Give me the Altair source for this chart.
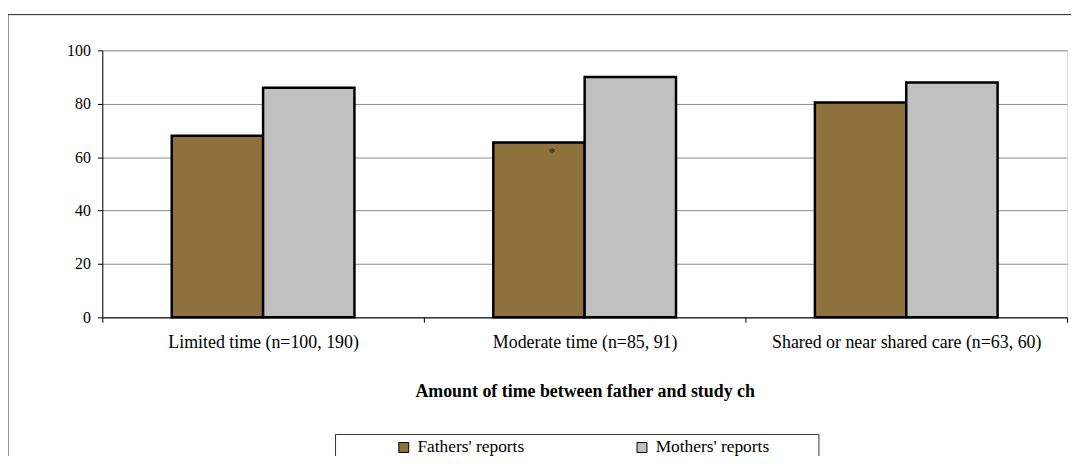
import altair as alt
import pandas as pd

categories = ["Limited time (n=100, 190)", "Moderate time (n=85, 91)", "Shared or near shared care (n=63, 60)"]
series = ["Fathers' reports", "Mothers' reports"]
fathers = [68, 65.5, 80.5]
mothers = [86, 90, 88]
colors = ["#8E713C", "#C0C0C0"]
y_ticks = [0, 20, 40, 60, 80, 100]
x_title = "Amount of time between father and study ch"
note_category = ["Moderate time (n=85, 91)"]
note_series = ["Fathers' reports"]
note_value = [61]
note_text = ["*"]

FONT = "'Liberation Serif', 'Times New Roman', 'DejaVu Serif', serif"

rows = []
for c, f, m in zip(categories, fathers, mothers):
    rows.append({"category": c, "series": series[0], "value": f})
    rows.append({"category": c, "series": series[1], "value": m})
df = pd.DataFrame(rows)

notes = pd.DataFrame({"category": note_category, "series": note_series,
                      "value": note_value, "text": note_text})

x_enc = alt.X("category:N", sort=categories,
              scale=alt.Scale(domain=categories, paddingInner=0, paddingOuter=0),
              axis=alt.Axis(title=x_title, labelAngle=0, tickBand="extent",
                            domainColor="black", tickColor="black", tickSize=5,
                            labelPadding=11, labelFont=FONT, labelFontSize=18,
                            labelColor="black", labelLimit=400,
                            titleFont=FONT, titleFontSize=18, titleFontWeight="bold",
                            titleColor="black", titleY=75, titleBaseline="middle",
                            grid=False))
xoff_enc = alt.XOffset("series:N", sort=series,
                       scale=alt.Scale(domain=series, paddingOuter=0.76, paddingInner=0))
y_enc = alt.Y("value:Q", scale=alt.Scale(domain=[0, 100]),
              axis=alt.Axis(values=y_ticks, title=None, domainColor="black",
                            tickColor="black", tickSize=5, labelPadding=7,
                            labelFont=FONT, labelFontSize=16, labelColor="black",
                            gridColor="#8c8c8c", gridWidth=1))

bars = alt.Chart(df).mark_bar(stroke="black", strokeWidth=2.5).encode(
    x=x_enc,
    xOffset=xoff_enc,
    y=y_enc,
    color=alt.Color("series:N", sort=series,
                    scale=alt.Scale(domain=series, range=colors),
                    legend=alt.Legend(title=None, orient="none", direction="horizontal",
                                      legendX=295, legendY=391, padding=0,
                                      symbolType="square", symbolSize=100,
                                      symbolStrokeColor="black", symbolStrokeWidth=1,
                                      labelFont=FONT, labelFontSize=17.5, labelColor="black",
                                      labelOffset=5, columnPadding=109, labelLimit=300)),
)

asterisk = alt.Chart(notes).mark_text(font=FONT, fontSize=14, color="#222", dx=13,
                                      baseline="middle").encode(
    x=alt.X("category:N", sort=categories),
    xOffset=alt.XOffset("series:N", sort=series),
    y=alt.Y("value:Q"),
    text="text:N",
)

one = pd.DataFrame({"a": [0]})
frame_left = alt.Chart(one).mark_rule(color="#333", strokeWidth=1).encode(
    x=alt.value(-95), y=alt.value(-36), y2=alt.value(420))
frame_top = alt.Chart(one).mark_rule(color="#222", strokeWidth=1).encode(
    x=alt.value(-95), x2=alt.value(980), y=alt.value(-36))
legend_box = alt.Chart(one).mark_rect(fill="white", stroke="#333", strokeWidth=1).encode(
    x=alt.value(235), x2=alt.value(722), y=alt.value(387), y2=alt.value(413))

chart = alt.layer(frame_left, frame_top, legend_box, bars, asterisk).properties(
    width=972, height=269,
    padding={"left": 95, "top": 41, "right": 4, "bottom": 138},
    autosize=alt.AutoSizeParams(type="none"),
).configure_view(stroke="#8c8c8c", strokeWidth=1).configure(background="white")

chart.save("out.html", embed_options={"renderer": "svg", "actions": False})
